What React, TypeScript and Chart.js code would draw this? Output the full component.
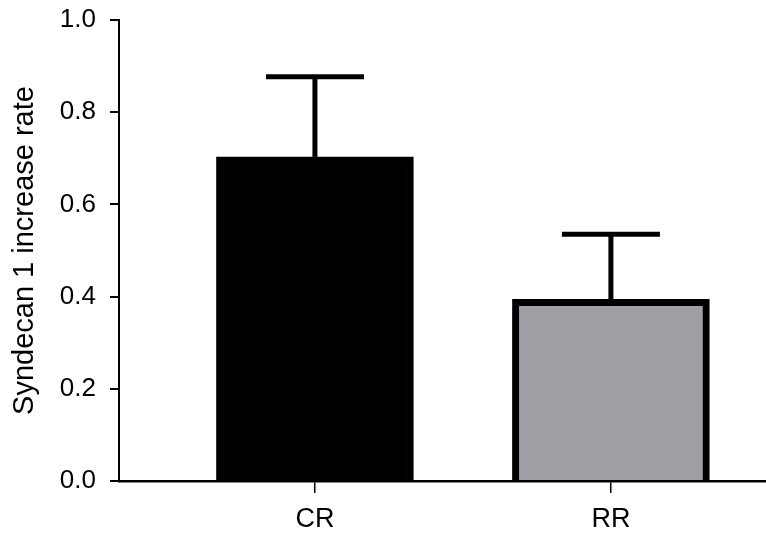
import React, { useEffect, useRef } from "react";
import { Chart, registerables } from "chart.js";

Chart.register(...registerables);

const categories = ["CR", "RR"];
const means = [0.703, 0.394];
const errors = [0.174, 0.141];
const barColors = ["#000000", "#a19fa5"];
const yTicks = [0, 0.2, 0.4, 0.6, 0.8, 1.0];

const FONT = "'Liberation Sans', Arial, Helvetica, sans-serif";

const errorBarPlugin = {
  id: "errorBars",
  afterDatasetsDraw(chart: any) {
    const ctx = chart.ctx;
    const xs = chart.scales.x;
    const ys = chart.scales.y;
    ctx.save();
    ctx.strokeStyle = "#000";
    ctx.lineCap = "butt";
    means.forEach((m, i) => {
      const x = xs.getPixelForValue(i);
      const yTop = ys.getPixelForValue(m + errors[i]);
      const yBar = ys.getPixelForValue(m);
      ctx.lineWidth = 5;
      ctx.beginPath();
      ctx.moveTo(x, yBar);
      ctx.lineTo(x, yTop);
      ctx.stroke();
      ctx.beginPath();
      ctx.moveTo(x - 49, yTop);
      ctx.lineTo(x + 49, yTop);
      ctx.stroke();
    });
    ctx.restore();
  },
};

export default function App() {
  const ref = useRef<HTMLCanvasElement>(null);
  useEffect(() => {
    if (!ref.current) return;
    const chart = new Chart(ref.current, {
      type: "bar",
      data: {
        datasets: [
          {
            data: means.map((v, i) => ({ x: i, y: v })),
            backgroundColor: barColors,
            borderColor: "#000000",
            borderWidth: 7,
            barThickness: 197,
          } as any,
        ],
      },
      plugins: [errorBarPlugin],
      options: {
        animation: false,
        responsive: false,
        maintainAspectRatio: false,
        layout: { padding: { top: 0, right: 0, left: 0, bottom: 0 } },
        plugins: { legend: { display: false }, tooltip: { enabled: false } },
        scales: {
          x: {
            type: "linear",
            offset: false,
            min: -0.662,
            max: 1.524,
            afterBuildTicks: (scale: any) => {
              scale.ticks = categories.map((_, i) => ({ value: i }));
            },
            afterFit: (scale: any) => {
              scale.height = 60;
              scale.paddingLeft = 0;
              scale.paddingRight = 0;
            },
            ticks: {
              callback: (v: any) => categories[v] ?? "",
              color: "#000",
              font: { family: FONT, size: 27 },
              padding: 10,
              maxRotation: 0,
              autoSkip: false,
            },
            grid: {
              offset: false,
              drawOnChartArea: false,
              drawTicks: true,
              tickLength: 12,
              color: "#000",
              lineWidth: 1.5,
            },
            border: { display: true, color: "#000", width: 2.5 },
          },
          y: {
            min: 0,
            max: 1.0,
            afterBuildTicks: (scale: any) => {
              scale.ticks = yTicks.map((v) => ({ value: v }));
            },
            afterFit: (scale: any) => {
              scale.width = 119;
              scale.paddingTop = 20;
              scale.paddingBottom = 0;
            },
            ticks: {
              callback: (v: any) => Number(v).toFixed(1),
              color: "#000",
              font: { family: FONT, size: 26 },
              padding: 14,
            },
            grid: {
              drawOnChartArea: false,
              drawTicks: true,
              tickLength: 9,
              color: "#000",
              lineWidth: 2,
            },
            border: { display: true, color: "#000", width: 2 },
            title: {
              display: true,
              text: "Syndecan 1 increase rate",
              color: "#000",
              font: { family: FONT, size: 29 },
              padding: { top: 8, bottom: 4 },
            },
          },
        },
      },
    });
    return () => chart.destroy();
  }, []);
  return (
    <div style={{ position: "absolute", left: 0, top: 0, width: 766, height: 541, background: "#fff" }}>
      <canvas ref={ref} width={766} height={541} style={{ width: 766, height: 541 }} />
    </div>
  );
}
